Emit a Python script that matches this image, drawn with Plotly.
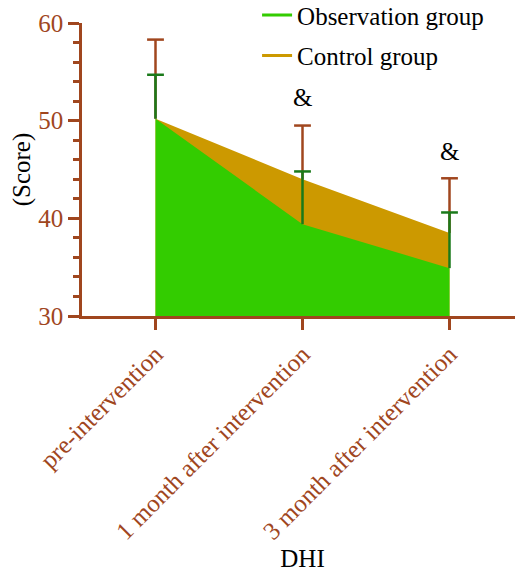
import plotly.graph_objects as go

categories = ["pre-intervention", "1 month after intervention", "3 month after intervention"]
obs_mean = [50.2, 39.4, 34.9]
obs_sd = [4.5, 5.4, 5.7]
ctrl_mean = [50.2, 44.0, 38.5]
ctrl_sd = [8.1, 5.5, 5.6]
sig_labels = ["", "&", "&"]
sig_y = [None, 52.4, 46.8]

BROWN = "#a0461e"
GREEN_FILL = "#33cc00"
GOLD_FILL = "#cc9900"
DARK_GREEN = "#1a7a1a"
FONT = "Liberation Serif"

fig = go.Figure()

# area fills
fig.add_trace(go.Scatter(x=categories, y=ctrl_mean, mode="lines", fill="tozeroy",
                         fillcolor=GOLD_FILL, line=dict(width=0, color=GOLD_FILL),
                         showlegend=False, hoverinfo="skip"))
fig.add_trace(go.Scatter(x=categories, y=obs_mean, mode="lines", fill="tozeroy",
                         fillcolor=GREEN_FILL, line=dict(width=0, color=GREEN_FILL),
                         showlegend=False, hoverinfo="skip"))


def err_traces(means, sds, color):
    xs, ys = [], []
    for c, m, s in zip(categories, means, sds):
        xs += [c, c, None]
        ys += [m, m + s, None]
    fig.add_trace(go.Scatter(x=xs, y=ys, mode="lines", line=dict(color=color, width=2.5),
                             showlegend=False, hoverinfo="skip"))
    fig.add_trace(go.Scatter(x=categories, y=[m + s for m, s in zip(means, sds)], mode="markers",
                             marker=dict(symbol="line-ew", size=12, line=dict(color=color, width=2.5)),
                             showlegend=False, hoverinfo="skip"))


err_traces(ctrl_mean, ctrl_sd, BROWN)
err_traces(obs_mean, obs_sd, DARK_GREEN)

# legend entries
fig.add_trace(go.Scatter(x=[None], y=[None], mode="lines", name="Observation group",
                         line=dict(color=GREEN_FILL, width=3), legendgroup="a"))
fig.add_trace(go.Scatter(x=[None], y=[None], mode="lines", name="Control group",
                         line=dict(color=GOLD_FILL, width=3), legendgroup="b"))

for c, lab, yy in zip(categories, sig_labels, sig_y):
    if lab:
        fig.add_annotation(x=c, y=yy, text=lab, showarrow=False,
                           font=dict(family=FONT, size=25, color="black"))

fig.update_layout(
    width=515, height=568,
    margin=dict(l=74, r=0, t=15, b=260, autoexpand=False),
    plot_bgcolor="white", paper_bgcolor="white",
    font=dict(family=FONT, size=25, color=BROWN),
    legend=dict(x=0.397, y=1.105, xanchor="left", yanchor="top",
                font=dict(family=FONT, size=25, color="black"),
                tracegroupgap=5, bgcolor="rgba(0,0,0,0)"),
    xaxis=dict(type="category", range=[-0.5, 2.5], showline=True, linecolor=BROWN, linewidth=2.5,
               ticks="outside", ticklen=11, tickwidth=2.5, tickcolor=BROWN, tickangle=-45,
               tickfont=dict(family=FONT, size=25, color=BROWN), showgrid=False, zeroline=False,
               title=dict(text="DHI", font=dict(family=FONT, size=25, color="black"), standoff=3)),
    yaxis=dict(range=[30, 60], dtick=10, showline=True, linecolor=BROWN, linewidth=2.5,
               ticks="outside", ticklen=11, tickwidth=2.5, tickcolor=BROWN,
               tickfont=dict(family=FONT, size=25, color=BROWN), showgrid=False, zeroline=False,
               minor=dict(dtick=2, ticks="outside", ticklen=6, tickwidth=2.5, tickcolor=BROWN),
               title=dict(text="(Score)", font=dict(family=FONT, size=25, color="black"), standoff=10)),
)

fig.write_html("out.html")
